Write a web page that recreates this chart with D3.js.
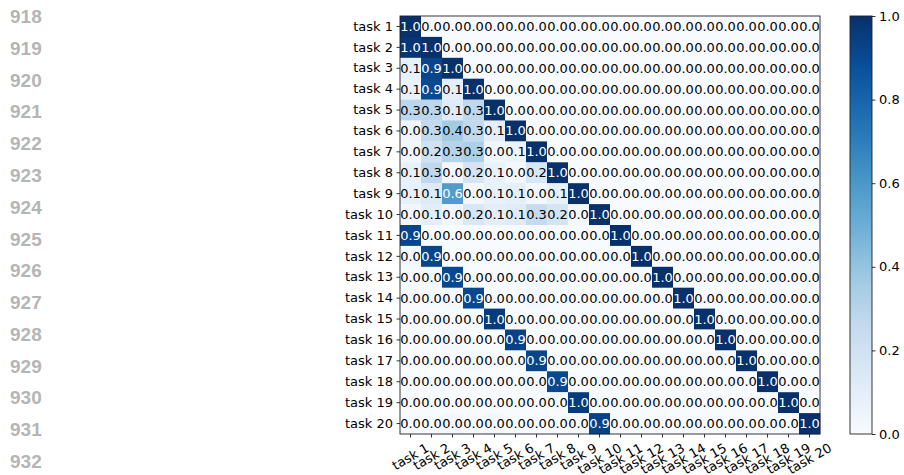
<!DOCTYPE html>
<html>
<head>
<meta charset="utf-8">
<script src="https://cdn.jsdelivr.net/npm/d3@7"></script>
<style>
  html, body { margin: 0; padding: 0; background: #ffffff; }
  svg { display: block; }
</style>
</head>
<body>
<svg id="chart" width="904" height="475"></svg>
<script>
// ---------------- data ----------------
const tasks = d3.range(1, 21).map(i => "task " + i);
const lineNumbers = d3.range(918, 933);
const colorbarTicks = [0.0, 0.2, 0.4, 0.6, 0.8, 1.0];
const bluesStops = ["#f7fbff","#deebf7","#c6dbef","#9ecae1","#6baed6","#4292c6","#2171b5","#08519c","#08306b"];

const row1  = [1.00,0,0,0,0,0,0,0,0,0,0,0,0,0,0,0,0,0,0,0];
const row2  = [0.98,1.00,0,0,0,0,0,0,0,0,0,0,0,0,0,0,0,0,0,0];
const row3  = [0.08,0.92,1.00,0,0,0,0,0,0,0,0,0,0,0,0,0,0,0,0,0];
const row4  = [0.07,0.90,0.10,1.00,0,0,0,0,0,0,0,0,0,0,0,0,0,0,0,0];
const row5  = [0.28,0.28,0.12,0.27,1.00,0,0,0,0,0,0,0,0,0,0,0,0,0,0,0];
const row6  = [0.04,0.26,0.36,0.26,0.10,1.00,0,0,0,0,0,0,0,0,0,0,0,0,0,0];
const row7  = [0.03,0.20,0.30,0.33,0.04,0.06,1.00,0,0,0,0,0,0,0,0,0,0,0,0,0];
const row8  = [0.08,0.27,0.03,0.17,0.07,0.02,0.16,1.00,0,0,0,0,0,0,0,0,0,0,0,0];
const row9  = [0.08,0.13,0.58,0.02,0.08,0.09,0.03,0.08,1.00,0,0,0,0,0,0,0,0,0,0,0];
const row10 = [0.03,0.10,0.04,0.16,0.10,0.12,0.25,0.18,0.02,1.00,0,0,0,0,0,0,0,0,0,0];
const row11 = [0.92,0,0,0,0,0,0,0,0,0.01,1.00,0,0,0,0,0,0,0,0,0];
const row12 = [0.02,0.92,0,0,0,0,0,0,0,0,0,1.00,0,0,0,0,0,0,0,0];
const row13 = [0.01,0.02,0.91,0,0,0,0.02,0,0,0,0,0,1.00,0,0,0,0,0,0,0];
const row14 = [0,0.01,0.02,0.91,0,0,0.02,0,0,0,0,0,0,1.00,0,0,0,0,0,0];
const row15 = [0,0,0,0.01,0.96,0,0,0,0,0,0,0,0,0,1.00,0,0,0,0,0];
const row16 = [0,0,0.02,0,0,0.93,0,0,0,0,0,0,0,0,0,1.00,0,0,0,0];
const row17 = [0,0,0,0.02,0,0,0.92,0,0,0,0,0,0,0,0,0,1.00,0,0,0];
const row18 = [0,0,0,0,0,0,0.02,0.91,0,0,0,0,0,0,0,0,0,1.00,0,0];
const row19 = [0,0,0,0,0,0,0,0.01,0.96,0,0,0,0,0,0,0,0,0,1.00,0];
const row20 = [0,0,0.02,0,0.02,0,0,0,0.01,0.93,0,0,0,0,0,0,0,0,0,1.00];
const values = [row1,row2,row3,row4,row5,row6,row7,row8,row9,row10,
                row11,row12,row13,row14,row15,row16,row17,row18,row19,row20];

// ---------------- layout ----------------
const svg = d3.select("#chart");
const plot = { left: 400, right: 820, top: 16, bottom: 434 };
const cbar = { left: 850, right: 872 };
const FONT = "'DejaVu Sans', sans-serif";

const color = d3.scaleLinear()
  .domain(bluesStops.map((_, i) => i / (bluesStops.length - 1)))
  .range(bluesStops)
  .interpolate(d3.interpolateRgb)
  .clamp(true);

const x = d3.scaleBand().domain(tasks).range([plot.left, plot.right]).padding(0);
const y = d3.scaleBand().domain(tasks).range([plot.top, plot.bottom]).padding(0);

// ---------------- line numbers ----------------
const ln = d3.scaleLinear().domain([918, 932]).range([23, 468]);
svg.append("g").selectAll("text").data(lineNumbers).join("text")
  .attr("x", 10)
  .attr("y", d => ln(d))
  .attr("font-family", "'Liberation Sans', Arial, sans-serif")
  .attr("font-weight", "bold")
  .attr("font-size", 19)
  .attr("fill", "#b5b5b5")
  .text(d => d);

// ---------------- cells ----------------
const cells = [];
values.forEach((row, i) => row.forEach((v, j) => cells.push({ r: tasks[i], c: tasks[j], v })));

svg.append("g").selectAll("rect").data(cells).join("rect")
  .attr("x", d => x(d.c))
  .attr("y", d => y(d.r))
  .attr("width", x.bandwidth() + 0.3)
  .attr("height", y.bandwidth() + 0.3)
  .attr("fill", d => color(d.v));

svg.append("g").selectAll("text").data(cells).join("text")
  .attr("x", d => x(d.c) + x.bandwidth() / 2)
  .attr("y", d => y(d.r) + y.bandwidth() / 2)
  .attr("text-anchor", "middle")
  .attr("dominant-baseline", "central")
  .attr("font-family", FONT)
  .attr("font-size", 13)
  .attr("fill", d => d.v > 0.5 ? "#ffffff" : "#000000")
  .text(d => d.v.toFixed(1));

// ---------------- axes ----------------
const yAxis = d3.axisLeft(y).tickSize(3.5).tickPadding(3.5);
const gy = svg.append("g").attr("transform", `translate(${plot.left},0)`).call(yAxis);
gy.select(".domain").remove();
gy.selectAll("text").attr("font-family", FONT).attr("font-size", 13).attr("fill", "#000");
gy.selectAll("line").attr("stroke", "#000").attr("stroke-width", 0.8);

const xAxis = d3.axisBottom(x).tickSize(3.5).tickFormat("");
const gx = svg.append("g").attr("transform", `translate(0,${plot.bottom})`).call(xAxis);
gx.select(".domain").remove();
gx.selectAll("line").attr("stroke", "#000").attr("stroke-width", 0.8);

const ang = 30 * Math.PI / 180;
const xl = svg.append("g");
tasks.forEach(t => {
  const txt = xl.append("text")
    .attr("font-family", FONT)
    .attr("font-size", 13)
    .attr("fill", "#000")
    .attr("text-anchor", "middle")
    .attr("dominant-baseline", "central")
    .text(t);
  const w = txt.node().getComputedTextLength();
  const h = w * Math.sin(ang) + 13 * Math.cos(ang);
  const cx = x(t) + x.bandwidth() / 2;
  const cy = plot.bottom + 3.5 + 3.5 + h / 2;
  txt.attr("transform", `translate(${cx},${cy}) rotate(-30)`);
});

// frame
svg.append("rect")
  .attr("x", plot.left).attr("y", plot.top)
  .attr("width", plot.right - plot.left).attr("height", plot.bottom - plot.top)
  .attr("fill", "none").attr("stroke", "#222").attr("stroke-width", 0.9);

// ---------------- colorbar ----------------
const defs = svg.append("defs");
const grad = defs.append("linearGradient").attr("id", "cbgrad")
  .attr("x1", 0).attr("y1", 1).attr("x2", 0).attr("y2", 0);
d3.range(0, 1.0001, 0.02).forEach(t => {
  grad.append("stop").attr("offset", t).attr("stop-color", color(t));
});
svg.append("rect")
  .attr("x", cbar.left).attr("y", plot.top)
  .attr("width", cbar.right - cbar.left).attr("height", plot.bottom - plot.top)
  .attr("fill", "url(#cbgrad)")
  .attr("stroke", "#222").attr("stroke-width", 0.9);

const cy = d3.scaleLinear().domain([0, 1]).range([plot.bottom, plot.top]);
const cAxis = d3.axisRight(cy).tickValues(colorbarTicks).tickFormat(d3.format(".1f"))
  .tickSize(3.5).tickPadding(3.5);
const gc = svg.append("g").attr("transform", `translate(${cbar.right},0)`).call(cAxis);
gc.select(".domain").remove();
gc.selectAll("text").attr("font-family", FONT).attr("font-size", 13).attr("fill", "#000");
gc.selectAll("line").attr("stroke", "#000").attr("stroke-width", 0.8);
</script>
</body>
</html>
